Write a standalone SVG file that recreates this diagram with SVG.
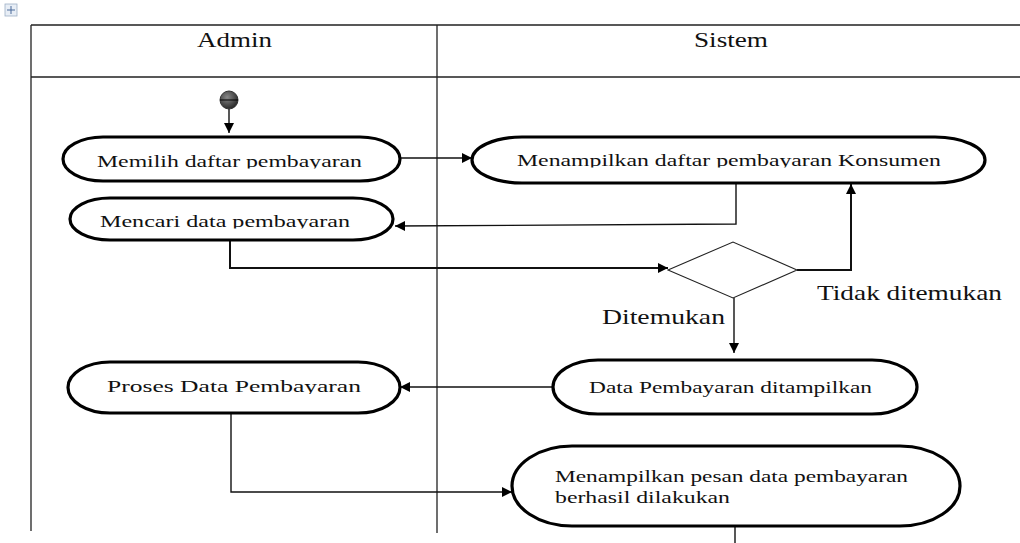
<svg xmlns="http://www.w3.org/2000/svg" width="1020" height="543" viewBox="0 0 1020 543">
<style>
.t{font-family:"Liberation Serif","Times New Roman",serif;fill:#111}
.nt{font-size:17px}
.ns{font-size:17px}
.hd{font-size:20px}
.lb{font-size:21px}
.node{fill:#fff;stroke:#000;stroke-width:3.2}
.grid{stroke:#222;stroke-width:1.3;fill:none}
.c{fill:none;stroke:#111;stroke-width:1.4}
.c2{fill:none;stroke:#111;stroke-width:2}
</style>
<defs>
<marker id="ah" markerUnits="userSpaceOnUse" markerWidth="12" markerHeight="12" refX="10" refY="5" orient="auto">
<path d="M0,0 L10,5 L0,10 z" fill="#000"/>
</marker>
<radialGradient id="sg" cx="0.4" cy="0.35" r="0.7">
<stop offset="0" stop-color="#888"/>
<stop offset="1" stop-color="#222"/>
</radialGradient>
<clipPath id="k1"><rect x="60" y="130" width="350" height="38.5"/></clipPath>
<clipPath id="k2"><rect x="60" y="195" width="350" height="33.5"/></clipPath>
<clipPath id="k3"><rect x="470" y="130" width="520" height="37.5"/></clipPath>
<clipPath id="k4"><rect x="60" y="360" width="350" height="34"/></clipPath>
</defs>
<rect width="1020" height="543" fill="#fff"/>

<g id="move-handle">
<rect x="5" y="4" width="12" height="12" fill="#e8eef6" stroke="#9fb0c6" stroke-width="0.8"/>
<path d="M11,6 V14 M7,10 H15" stroke="#4a6a9a" stroke-width="1"/>
</g>

<g id="swimlanes">
<path class="grid" d="M31,25 H1020 M31,77 H1020 M31,25 V531 M437,25 V533"/>
<text class="t hd" x="197" y="47" textLength="75" lengthAdjust="spacingAndGlyphs">Admin</text>
<text class="t hd" x="694" y="47" textLength="74" lengthAdjust="spacingAndGlyphs">Sistem</text>
</g>

<g id="connectors">
<path class="c" d="M229,109 V133" marker-end="url(#ah)"/>
<path class="c" d="M400,158 H472" marker-end="url(#ah)"/>
<path class="c" d="M736,183 V224 L395,226" marker-end="url(#ah)"/>
<path class="c2" d="M230,240 V268 H668" marker-end="url(#ah)"/>
<path class="c2" d="M797,270 H851 V184" marker-end="url(#ah)"/>
<path class="c" d="M734,298 V353" marker-end="url(#ah)"/>
<path class="c" d="M553,387 H400" marker-end="url(#ah)"/>
<path class="c" d="M231,413 V492 H512" marker-end="url(#ah)"/>
<path class="c" d="M735,526 V543"/>
<text class="t lb" x="817" y="300" textLength="185" lengthAdjust="spacingAndGlyphs">Tidak ditemukan</text>
<text class="t lb" x="602" y="324" textLength="123" lengthAdjust="spacingAndGlyphs">Ditemukan</text>
</g>

<g id="start">
<circle cx="229" cy="100" r="9" fill="url(#sg)" stroke="#333" stroke-width="1"/>
<path d="M220,100 H238" stroke="#000" stroke-width="1"/>
</g>

<g id="memilih">
<rect class="node" x="63" y="137" width="337" height="44" rx="40" ry="22"/>
<text class="t nt" x="97" y="167" textLength="265" lengthAdjust="spacingAndGlyphs" clip-path="url(#k1)">Memilih daftar pembayaran</text>
</g>

<g id="mencari">
<rect class="node" x="70" y="198" width="323" height="42" rx="40" ry="21"/>
<text class="t nt" x="100" y="227" textLength="250" lengthAdjust="spacingAndGlyphs" clip-path="url(#k2)">Mencari data pembayaran</text>
</g>

<g id="menampilkan-daftar">
<rect class="node" x="472" y="137" width="513" height="46" rx="50" ry="23"/>
<text class="t nt" x="517" y="166" textLength="424" lengthAdjust="spacingAndGlyphs" clip-path="url(#k3)">Menampilkan daftar pembayaran  Konsumen</text>
</g>

<g id="decision">
<polygon points="668,270 733,242 797,270 733,298" fill="#fff" stroke="#222" stroke-width="1.1"/>
</g>

<g id="data-ditampilkan">
<rect class="node" x="553" y="360" width="364" height="54" rx="45" ry="27"/>
<text class="t ns" x="589" y="393" textLength="283" lengthAdjust="spacingAndGlyphs">Data Pembayaran ditampilkan</text>
</g>

<g id="proses">
<rect class="node" x="68" y="362" width="332" height="51" rx="42" ry="25.5"/>
<text class="t ns" x="107" y="392" textLength="254" lengthAdjust="spacingAndGlyphs" clip-path="url(#k4)">Proses  Data Pembayaran</text>
</g>

<g id="pesan-berhasil">
<rect class="node" x="512" y="446" width="448" height="80" rx="60" ry="40"/>
<text class="t ns" x="555" y="482" textLength="353" lengthAdjust="spacingAndGlyphs">Menampilkan pesan data pembayaran</text>
<text class="t ns" x="555" y="503" textLength="175" lengthAdjust="spacingAndGlyphs">berhasil dilakukan</text>
</g>
</svg>
